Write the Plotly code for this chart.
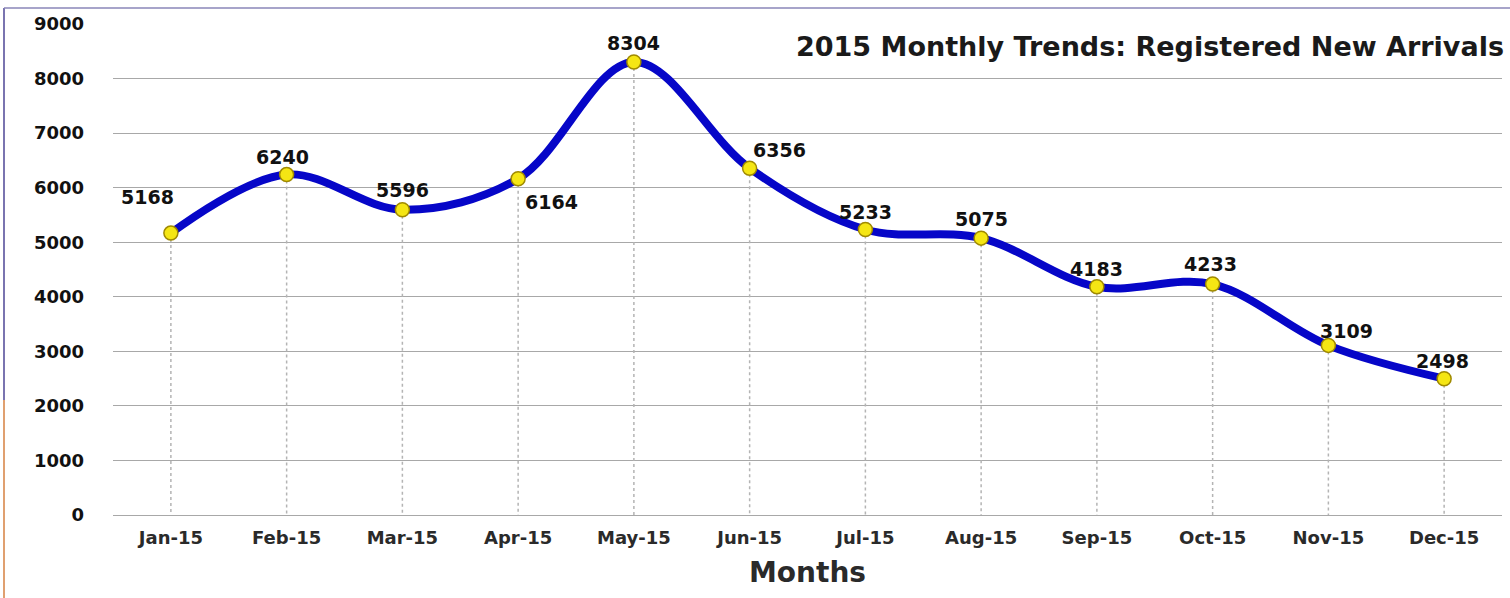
import plotly.graph_objects as go

months = ["Jan-15", "Feb-15", "Mar-15", "Apr-15", "May-15", "Jun-15",
          "Jul-15", "Aug-15", "Sep-15", "Oct-15", "Nov-15", "Dec-15"]
arrivals = [5168, 6240, 5596, 6164, 8304, 6356, 5233, 5075, 4183, 4233, 3109, 2498]
y_ticks = [0, 1000, 2000, 3000, 4000, 5000, 6000, 7000, 8000, 9000]
# label offsets in pixels (style only)
label_dx = [-23, -4, 0, 33, 0, 30, 0, 0, 0, -2, 18, -2]
label_dy = [36, 18, 20, -23, 19, 18, 18, 19, 18, 20, 14, 18]

W, H = 1510, 598
L, R, T, B = 113, 8, 24, 83
pw, ph = W - L - R, H - T - B

def px_to_paper_x(px):
    return (px - L) / pw

def px_to_paper_y(py):
    return (H - B - py) / ph

FONT = "DejaVu Sans"

fig = go.Figure()

# drop lines
dx, dy = [], []
for m, v in zip(months, arrivals):
    dx += [m, m, None]
    dy += [v, 0, None]
fig.add_trace(go.Scatter(x=dx, y=dy, mode="lines", hoverinfo="skip",
                         line=dict(color="#b4b4b4", width=1.5, dash="dot"), showlegend=False))

fig.add_trace(go.Scatter(
    x=months, y=arrivals, mode="lines+markers",
    line=dict(color="#0606c8", width=8, shape="spline", smoothing=1.0),
    marker=dict(size=14, color="#f5e614", line=dict(color="#a08a00", width=1.5)),
    showlegend=False, cliponaxis=False))

annotations = [dict(text="2015 Monthly Trends: Registered New Arrivals", xref="paper", yref="paper",
                    x=px_to_paper_x(1506), y=px_to_paper_y(46), xanchor="right", yanchor="middle",
                    showarrow=False, font=dict(family=FONT, size=27, color="#1a1a1a", weight="bold"))]
for m, v, ox, oy in zip(months, arrivals, label_dx, label_dy):
    annotations.append(dict(text=str(v), x=m, y=v, xref="x", yref="y", showarrow=False,
                            xanchor="center", yanchor="middle", xshift=ox, yshift=oy,
                            font=dict(family=FONT, size=19, color="#111111", weight="bold")))

fig.update_layout(
    width=W, height=H, margin=dict(l=L, r=R, t=T, b=B),
    paper_bgcolor="white", plot_bgcolor="white",
    font=dict(family=FONT),
    xaxis=dict(type="category", range=[-0.5, 11.5], showgrid=False, zeroline=False,
               showline=False, ticks="", ticklabelstandoff=10,
               tickfont=dict(family=FONT, size=18, color="#2a2a2a", weight="bold"),
               title=dict(text="Months", font=dict(family=FONT, size=28, color="#2a2a2a", weight="bold"),
                          standoff=15)),
    yaxis=dict(range=[0, 9000], tickvals=y_ticks, showgrid=True, gridcolor="#a8a8a8", gridwidth=1,
               zeroline=True, zerolinecolor="#a8a8a8", zerolinewidth=1, showline=False, ticks="",
               ticklabelstandoff=28,
               tickfont=dict(family=FONT, size=18, color="#111111", weight="bold")),
    annotations=annotations,
    shapes=[
        dict(type="line", xref="paper", yref="paper", x0=px_to_paper_x(4), x1=px_to_paper_x(4),
             y0=px_to_paper_y(8), y1=px_to_paper_y(400), line=dict(color="#7a74b0", width=2)),
        dict(type="line", xref="paper", yref="paper", x0=px_to_paper_x(4), x1=px_to_paper_x(4),
             y0=px_to_paper_y(400), y1=px_to_paper_y(598), line=dict(color="#e0a070", width=2)),
        dict(type="line", xref="paper", yref="paper", x0=px_to_paper_x(4), x1=px_to_paper_x(1510),
             y0=px_to_paper_y(8), y1=px_to_paper_y(8), line=dict(color="#8a86b8", width=1.5)),
    ],
)

fig.write_html("out.html", config={"displayModeBar": False},
               post_script="document.body.style.margin='0';")
